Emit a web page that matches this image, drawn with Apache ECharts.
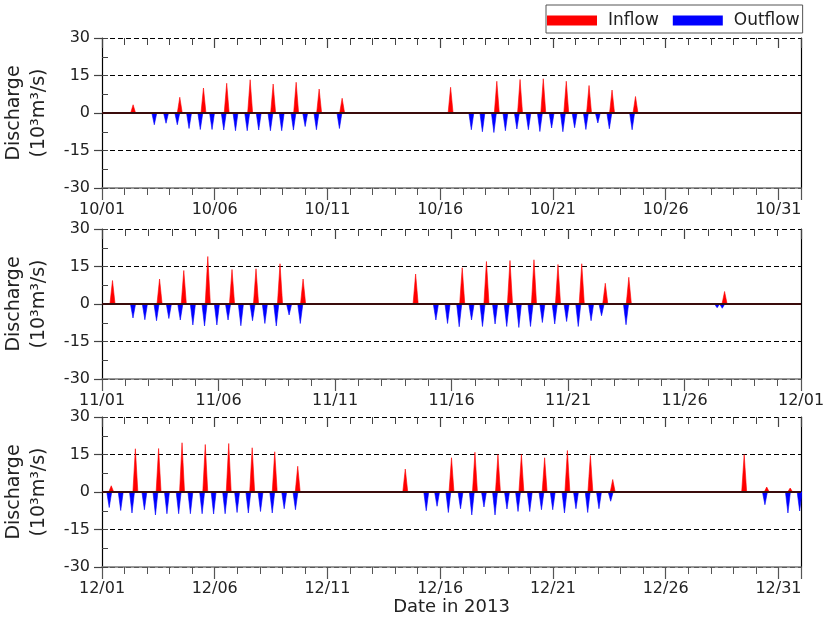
<!DOCTYPE html>
<html><head><meta charset="utf-8">
<script src="https://cdn.jsdelivr.net/npm/echarts@6/dist/echarts.min.js"></script>
<style>html,body{margin:0;padding:0;background:#fff}#c{width:827px;height:626px}</style>
</head><body><div id="c"></div>
<script>
// ---- data (day offsets from the start of each month, discharge in 10^3 m^3/s) ----
const octTicks = ['10/01','10/06','10/11','10/16','10/21','10/26','10/31'];
const novTicks = ['11/01','11/06','11/11','11/16','11/21','11/26','12/01'];
const decTicks = ['12/01','12/06','12/11','12/16','12/21','12/26','12/31'];
const yTicks = [-30, -15, 0, 15, 30];

const octInDay = [1.38, 3.45, 4.50, 5.53, 6.57, 7.59, 8.61, 9.63, 10.65, 15.46, 17.51, 18.54, 19.57, 20.59, 21.60, 22.62, 23.66];
const octInVal = [3.3, 6.3, 10.0, 11.9, 13.3, 11.6, 12.3, 9.6, 5.9, 10.3, 12.7, 13.4, 13.7, 12.7, 11.0, 9.2, 6.6];
const octOutDay = [2.32, 2.84, 3.34, 3.86, 4.36, 4.88, 5.40, 5.92, 6.44, 6.95, 7.47, 7.97, 8.49, 9.01, 9.51, 10.53, 16.38, 16.87, 17.38, 17.89, 18.40, 18.91, 19.42, 19.94, 20.44, 20.96, 21.46, 21.99, 22.50, 23.51];
const octOutVal = [-4.7, -4.1, -4.7, -6.2, -6.6, -6.6, -6.8, -7.1, -7.1, -6.8, -7.1, -7.1, -6.8, -5.4, -6.7, -6.2, -6.7, -7.5, -7.8, -7.1, -6.4, -6.7, -7.4, -6.0, -7.5, -5.9, -6.6, -4.0, -6.3, -6.7];

const novInDay = [0.45, 2.47, 3.51, 4.54, 5.58, 6.61, 7.64, 8.63, 13.46, 15.46, 16.50, 17.51, 18.54, 19.57, 20.59, 21.60, 22.61, 26.72];
const novInVal = [9.4, 10.0, 13.4, 19.0, 13.8, 14.1, 16.1, 10.0, 12.0, 14.5, 17.0, 17.4, 17.7, 15.8, 16.1, 8.3, 10.7, 5.0];
const novOutDay = [1.33, 1.84, 2.34, 2.87, 3.36, 3.90, 4.40, 4.93, 5.41, 5.96, 6.46, 6.99, 7.48, 8.03, 8.51, 14.33, 14.83, 15.33, 15.86, 16.33, 16.87, 17.37, 17.89, 18.39, 18.90, 19.43, 19.94, 20.44, 20.99, 21.44, 22.49, 26.40, 26.62];
const novOutVal = [-5.6, -6.3, -6.7, -5.8, -6.4, -8.4, -8.8, -8.4, -6.4, -8.7, -6.7, -7.8, -8.8, -4.4, -7.8, -6.4, -7.8, -9.1, -6.4, -9.0, -8.0, -9.0, -9.4, -9.0, -7.4, -8.0, -7.0, -9.0, -6.7, -4.7, -8.3, -1.5, -1.7];

const decInDay = [0.41, 1.48, 2.51, 3.55, 4.58, 5.62, 6.66, 7.66, 8.68, 13.45, 15.50, 16.54, 17.56, 18.60, 19.63, 20.64, 21.66, 22.65, 28.48, 29.48, 30.52];
const decInVal = [2.5, 17.3, 17.4, 19.7, 19.0, 19.4, 17.7, 16.1, 10.3, 9.2, 13.7, 15.9, 15.0, 15.0, 13.7, 16.6, 14.6, 5.0, 15.0, 2.0, 1.6];
const decOutDay = [0.32, 0.83, 1.33, 1.88, 2.37, 2.88, 3.40, 3.92, 4.44, 4.95, 5.46, 5.99, 6.49, 7.03, 7.55, 8.08, 8.58, 14.38, 14.86, 15.36, 15.90, 16.40, 16.94, 17.43, 17.96, 18.45, 18.97, 19.49, 19.99, 20.51, 21.02, 21.54, 22.04, 22.56, 29.40, 30.42, 30.94];
const decOutVal = [-6.2, -7.4, -8.4, -7.1, -9.2, -8.7, -8.7, -8.7, -8.7, -8.8, -8.7, -8.2, -8.4, -7.8, -8.4, -6.7, -7.1, -7.5, -5.7, -8.2, -6.7, -9.2, -6.0, -9.2, -6.8, -7.8, -7.8, -7.1, -7.1, -8.4, -6.7, -8.2, -6.7, -3.7, -5.1, -8.4, -7.6];

const monthLength = [31, 30, 31];

// ---- presentation ----
const FONT = 'DejaVu Sans';
const HALF = 0.11; // half base-width of each pulse (days)
const panels = [
  {ticks: octTicks, max: monthLength[0], inD: octInDay, inV: octInVal, outD: octOutDay, outV: octOutVal},
  {ticks: novTicks, max: monthLength[1], inD: novInDay, inV: novInVal, outD: novOutDay, outV: novOutVal},
  {ticks: decTicks, max: monthLength[2], inD: decInDay, inV: decInVal, outD: decOutDay, outV: decOutVal}
];
const tops = [38, 229, 417];

function pulses(days, vals, max) {
  const d = [[0, 0]];
  for (let i = 0; i < days.length; i++) {
    d.push([days[i] - HALF, 0], [days[i], vals[i]], [days[i] + HALF, 0]);
  }
  d.push([max, 0]);
  return d;
}

const grid = [], xAxis = [], yAxis = [], series = [];
panels.forEach((p, i) => {
  grid.push({left: 102, width: 699, top: tops[i], height: 150, containLabel: false, outerBoundsMode: 'none'});
  const base = {gridIndex: i, type: 'value', min: 0, max: p.max, splitLine: {show: false}};
  xAxis.push(Object.assign({}, base, {
    position: 'bottom', interval: 5,
    axisLine: {show: true, onZero: false, lineStyle: {color: '#777', width: 1.5}},
    axisTick: {show: true, inside: false, length: 12, lineStyle: {color: '#555', width: 1.2}},
    axisLabel: {show: true, margin: 14, fontFamily: FONT, fontSize: 16, color: '#222',
      formatter: v => (v % 5 === 0 && p.ticks[v / 5] !== undefined) ? p.ticks[v / 5] : ''},
    name: i === 2 ? 'Date in 2013' : '', nameLocation: 'middle', nameGap: 31,
    nameTextStyle: {fontFamily: FONT, fontSize: 18, color: '#222'}
  }));
  xAxis.push(Object.assign({}, base, {
    position: 'bottom', interval: 1,
    axisLine: {show: false, onZero: false},
    axisTick: {show: true, inside: false, length: 7, lineStyle: {color: '#555'}},
    axisLabel: {show: false}
  }));
  xAxis.push(Object.assign({}, base, {
    position: 'top', interval: 5,
    axisLine: {show: false, onZero: false},
    axisTick: {show: true, inside: true, length: 10, lineStyle: {color: '#444', width: 1.2}},
    axisLabel: {show: false}
  }));
  xAxis.push(Object.assign({}, base, {
    position: 'top', interval: 1,
    axisLine: {show: false, onZero: false},
    axisTick: {show: true, inside: true, length: 7, lineStyle: {color: '#444'}},
    axisLabel: {show: false}
  }));
  const ybase = {gridIndex: i, type: 'value', min: yTicks[0], max: yTicks[yTicks.length - 1]};
  yAxis.push(Object.assign({}, ybase, {
    position: 'left', interval: 15,
    axisLine: {show: true, onZero: false, lineStyle: {color: '#000', width: 1.2}},
    axisTick: {show: true, inside: false, length: 8, lineStyle: {color: '#444', width: 1.2}},
    axisLabel: {show: true, margin: 12, fontFamily: FONT, fontSize: 16, color: '#222',
      formatter: v => yTicks.indexOf(v) >= 0 ? String(v) : ''},
    splitLine: {show: true, lineStyle: {color: '#000', type: [5, 3], width: 1}},
    name: 'Discharge\n(10³m³/s)', nameLocation: 'middle', nameRotate: 90, nameGap: 50,
    nameTextStyle: {fontFamily: FONT, fontSize: 19, color: '#222', lineHeight: 25}
  }));
  yAxis.push(Object.assign({}, ybase, {
    position: 'left', interval: 7.5,
    axisLine: {show: false, onZero: false},
    axisTick: {show: true, inside: true, length: 6, lineStyle: {color: '#444'}},
    axisLabel: {show: false}, splitLine: {show: false}
  }));
  yAxis.push(Object.assign({}, ybase, {
    position: 'right', interval: 15,
    axisLine: {show: true, onZero: false, lineStyle: {color: '#000', width: 1.2}},
    axisTick: {show: false}, axisLabel: {show: false}, splitLine: {show: false}
  }));
  series.push({
    name: 'Inflow', type: 'line', xAxisIndex: 4 * i, yAxisIndex: 3 * i,
    data: pulses(p.inD, p.inV, p.max), symbol: 'none', silent: true,
    lineStyle: {color: '#ff0000', width: 0.6}, itemStyle: {color: '#ff0000'},
    areaStyle: {color: '#ff0000', opacity: 1, origin: 0}
  });
  series.push({
    name: 'Outflow', type: 'line', xAxisIndex: 4 * i, yAxisIndex: 3 * i,
    data: pulses(p.outD, p.outV, p.max), symbol: 'none', silent: true,
    lineStyle: {color: '#0000ff', width: 0.6}, itemStyle: {color: '#0000ff'},
    areaStyle: {color: '#0000ff', opacity: 1, origin: 0},
    markLine: {silent: true, symbol: 'none', label: {show: false},
      lineStyle: {color: '#3a0c0c', width: 2, type: 'solid'}, data: [{yAxis: 0}]}
  });
});

const chart = echarts.init(document.getElementById('c'), null, {renderer: 'canvas'});
chart.setOption({
  animation: false,
  backgroundColor: '#fff',
  legend: {
    data: ['Inflow', 'Outflow'], left: 546, top: 5,
    icon: 'rect', itemWidth: 50, itemHeight: 10, itemGap: 14,
    borderColor: '#555', borderWidth: 1, padding: [7, 3, 4, 1],
    textStyle: {fontFamily: FONT, fontSize: 17, color: '#222', padding: [0, 0, 8, 6]}
  },
  grid, xAxis, yAxis, series
});
</script></body></html>
